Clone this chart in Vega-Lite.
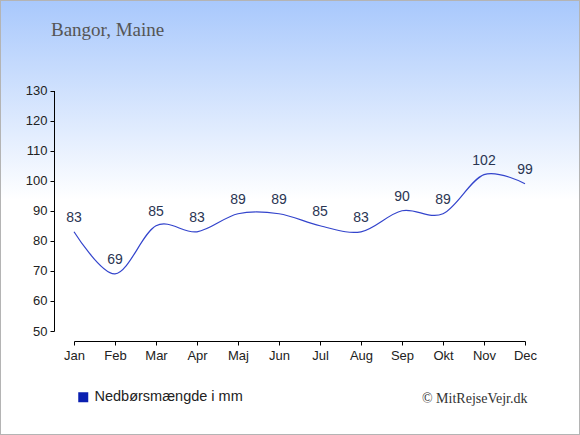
{
  "$schema": "https://vega.github.io/schema/vega-lite/v6.json",
  "description": "Monthly precipitation in Bangor, Maine",
  "width": 580,
  "height": 435,
  "autosize": "none",
  "padding": 0,
  "background": "white",
  "title": {
    "text": "Bangor, Maine",
    "anchor": "start",
    "frame": "group",
    "orient": "top",
    "baseline": "alphabetic",
    "offset": -55,
    "dx": 51,
    "font": "Liberation Serif",
    "fontSize": 19,
    "fontWeight": "normal",
    "color": "#555555"
  },
  "config": {
    "view": {
      "fill": {
        "gradient": "linear",
        "x1": 0, "y1": 0, "x2": 0, "y2": 1,
        "stops": [
          {"offset": 0, "color": "#a8c8fc"},
          {"offset": 0.46, "color": "#ffffff"},
          {"offset": 1, "color": "#ffffff"}
        ]
      },
      "stroke": "#b4b4b4",
      "strokeWidth": 2
    },
    "axis": {
      "grid": false,
      "domainColor": "#000000",
      "tickColor": "#000000",
      "tickSize": 4,
      "labelFont": "Liberation Sans",
      "labelFontSize": 13,
      "labelColor": "#222222"
    }
  },
  "data": {
    "values": [
      {"month": "Jan", "mm": 83},
      {"month": "Feb", "mm": 69},
      {"month": "Mar", "mm": 85},
      {"month": "Apr", "mm": 83},
      {"month": "Maj", "mm": 89},
      {"month": "Jun", "mm": 89},
      {"month": "Jul", "mm": 85},
      {"month": "Aug", "mm": 83},
      {"month": "Sep", "mm": 90},
      {"month": "Okt", "mm": 89},
      {"month": "Nov", "mm": 102},
      {"month": "Dec", "mm": 99}
    ]
  },
  "encoding": {
    "x": {
      "field": "month",
      "type": "ordinal",
      "scale": {
        "type": "point",
        "padding": 0,
        "domain": ["Jan", "Feb", "Mar", "Apr", "Maj", "Jun", "Jul", "Aug", "Sep", "Okt", "Nov", "Dec"],
        "range": [74, 525]
      },
      "axis": {
        "orient": "bottom",
        "offset": -94,
        "labelAngle": 0,
        "labelPadding": 4,
        "title": "© MitRejseVejr.dk",
        "titleFont": "Liberation Serif",
        "titleFontSize": 14,
        "titleFontWeight": "normal",
        "titleColor": "#333333",
        "titleAlign": "right",
        "titleAnchor": null,
        "titleBaseline": "alphabetic",
        "titleX": 527,
        "titleY": 61
      }
    },
    "y": {
      "field": "mm",
      "type": "quantitative",
      "scale": {"domain": [50, 130], "range": [331, 90.5], "nice": false, "zero": false},
      "axis": {"orient": "left", "offset": -54, "values": [50, 60, 70, 80, 90, 100, 110, 120, 130], "title": null, "labelPadding": 3}
    }
  },
  "layer": [
    {
      "mark": {"type": "line", "interpolate": "cardinal", "strokeWidth": 1.2},
      "encoding": {
        "color": {
          "datum": "Nedbørsmængde i mm",
          "scale": {"range": ["#3344cc"]},
          "legend": {
            "title": null,
            "orient": "none",
            "legendX": 76,
            "legendY": 390,
            "symbolType": "square",
            "symbolSize": 100,
            "labelFont": "Liberation Sans",
            "labelFontSize": 14.5,
            "labelColor": "#222222",
            "labelOffset": 4,
            "encode": {"symbols": {"update": {"fill": {"value": "#0a1fb0"}, "stroke": {"value": "#0a1fb0"}, "strokeWidth": {"value": 0}}}}
          }
        }
      }
    },
    {
      "mark": {"type": "text", "dy": -14, "font": "Liberation Sans", "fontSize": 14, "color": "#2a3552"},
      "encoding": {"text": {"field": "mm", "type": "quantitative"}}
    }
  ]
}
